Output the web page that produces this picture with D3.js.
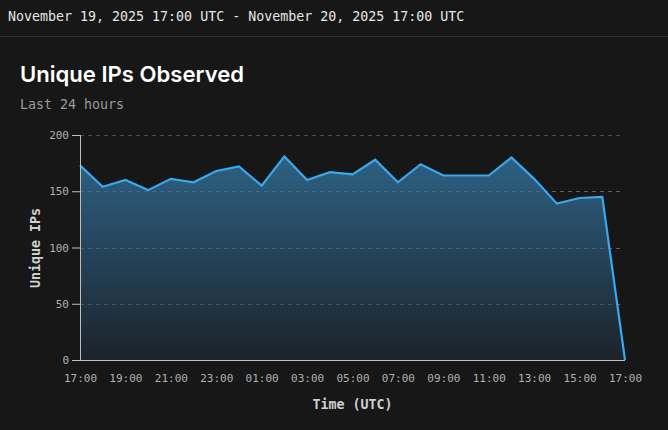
<!DOCTYPE html>
<html>
<head>
<meta charset="utf-8">
<script src="https://cdn.jsdelivr.net/npm/d3@7"></script>
<style>
  html, body { margin: 0; padding: 0; background: #171717; }
  body { width: 668px; height: 430px; overflow: hidden; }
  svg { display: block; }
</style>
</head>
<body>
<svg id="chart" width="668" height="430"></svg>
<script>
const hours = ["17:00","18:00","19:00","20:00","21:00","22:00","23:00","00:00","01:00","02:00","03:00","04:00","05:00","06:00","07:00","08:00","09:00","10:00","11:00","12:00","13:00","14:00","15:00","16:00","17:00"];
const uniqueIPs = [173,154,160,151,161,158,168,172,155,181,160,167,165,178,158,174,164,164,164,180,161,139,144,145,0];
const xTickLabels = ["17:00","19:00","21:00","23:00","01:00","03:00","05:00","07:00","09:00","11:00","13:00","15:00","17:00"];
const yTicks = [0,50,100,150,200];
const headerText = "November 19, 2025 17:00 UTC - November 20, 2025 17:00 UTC";
const titleText = "Unique IPs Observed";
const subtitleText = "Last 24 hours";
const yLabel = "Unique IPs";
const xLabel = "Time (UTC)";

(function () {
const mono = "'DejaVu Sans Mono', monospace";
const svg = d3.select("#chart");

// header
svg.append("text").attr("x", 8).attr("y", 21)
  .attr("font-family", mono).attr("font-size", 13.3).attr("fill", "#e6e6e6")
  .text(headerText);
svg.append("line").attr("x1", 0).attr("x2", 668).attr("y1", 36.5).attr("y2", 36.5)
  .attr("stroke", "#2e2e2e").attr("stroke-width", 1);

svg.append("text").attr("x", 20).attr("y", 82)
  .attr("font-family", "Inter, 'Open Sans', sans-serif").attr("font-weight", 600)
  .attr("font-size", 22.1).attr("fill", "#ffffff")
  .text(titleText);
svg.append("text").attr("x", 20).attr("y", 109)
  .attr("font-family", mono).attr("font-size", 13.3).attr("fill", "#9a9a9a")
  .text(subtitleText);

const pl = 80, pr = 625, pt = 135, pb = 360;
const x = d3.scaleLinear().domain([0, hours.length - 1]).range([pl, pr]);
const y = d3.scaleLinear().domain([0, 200]).range([pb, pt]);

// gradient
const defs = svg.append("defs");
const grad = defs.append("linearGradient").attr("id", "areaGrad")
  .attr("x1", 0).attr("y1", 0).attr("x2", 0).attr("y2", 1);
grad.append("stop").attr("offset", "0%").attr("stop-color", "#2d6184");
grad.append("stop").attr("offset", "100%").attr("stop-color", "#1c232b");

// grid
svg.append("g").selectAll("line").data(yTicks.filter(d => d > 0)).join("line")
  .attr("x1", pl).attr("x2", 620)
  .attr("y1", d => Math.round(y(d)) + 0.5).attr("y2", d => Math.round(y(d)) + 0.5)
  .attr("stroke", "#4a4a4a").attr("stroke-dasharray", "4,4").attr("stroke-width", 1);

// area
const area = d3.area().x((d, i) => x(i)).y0(pb).y1(d => y(d));
svg.append("path").datum(uniqueIPs).attr("d", area).attr("fill", "url(#areaGrad)");

// grid over area
svg.append("g").selectAll("line").data(yTicks.filter(d => d > 0 && d < 200)).join("line")
  .attr("x1", pl).attr("x2", 620)
  .attr("y1", d => Math.round(y(d)) + 0.5).attr("y2", d => Math.round(y(d)) + 0.5)
  .attr("stroke", "#6a8194").attr("stroke-opacity", 0.45).attr("stroke-dasharray", "4,4").attr("stroke-width", 1);

// line
const line = d3.line().x((d, i) => x(i)).y(d => y(d));
svg.append("path").datum(uniqueIPs).attr("d", line)
  .attr("fill", "none").attr("stroke", "#3aa8ec").attr("stroke-width", 2.2)
  .attr("stroke-linejoin", "miter");

// y axis
const yAxis = svg.append("g").attr("transform", `translate(${pl},0)`)
  .call(d3.axisLeft(y).tickValues(yTicks).tickSize(8).tickPadding(3));
yAxis.select(".domain").attr("stroke", "#bdbdbd").attr("d", `M0.5,${pt}V${pb}`);
yAxis.selectAll(".tick line").attr("stroke", "#bdbdbd");
yAxis.selectAll(".tick text").attr("font-family", mono).attr("font-size", 11).attr("fill", "#b0b0b0");

// x axis
const xAxis = svg.append("g").attr("transform", `translate(0,${pb})`)
  .call(d3.axisBottom(x).tickValues(d3.range(0, hours.length, 2))
    .tickFormat((d, i) => xTickLabels[i]).tickSize(0).tickPadding(14));
xAxis.select(".domain").attr("stroke", "#bdbdbd").attr("d", `M${pl},0.5H${pr}`);
xAxis.selectAll(".tick text").attr("font-family", mono).attr("font-size", 11).attr("fill", "#b0b0b0");

// axis labels
svg.append("text").attr("transform", `translate(40,248) rotate(-90)`)
  .attr("text-anchor", "middle").attr("font-family", mono).attr("font-weight", "bold")
  .attr("font-size", 13.3).attr("fill", "#cfcfcf").text(yLabel);
svg.append("text").attr("x", (pl + pr) / 2).attr("y", 409)
  .attr("text-anchor", "middle").attr("font-family", mono).attr("font-weight", "bold")
  .attr("font-size", 13.3).attr("fill", "#cfcfcf").text(xLabel);
})();
</script>
</body>
</html>
